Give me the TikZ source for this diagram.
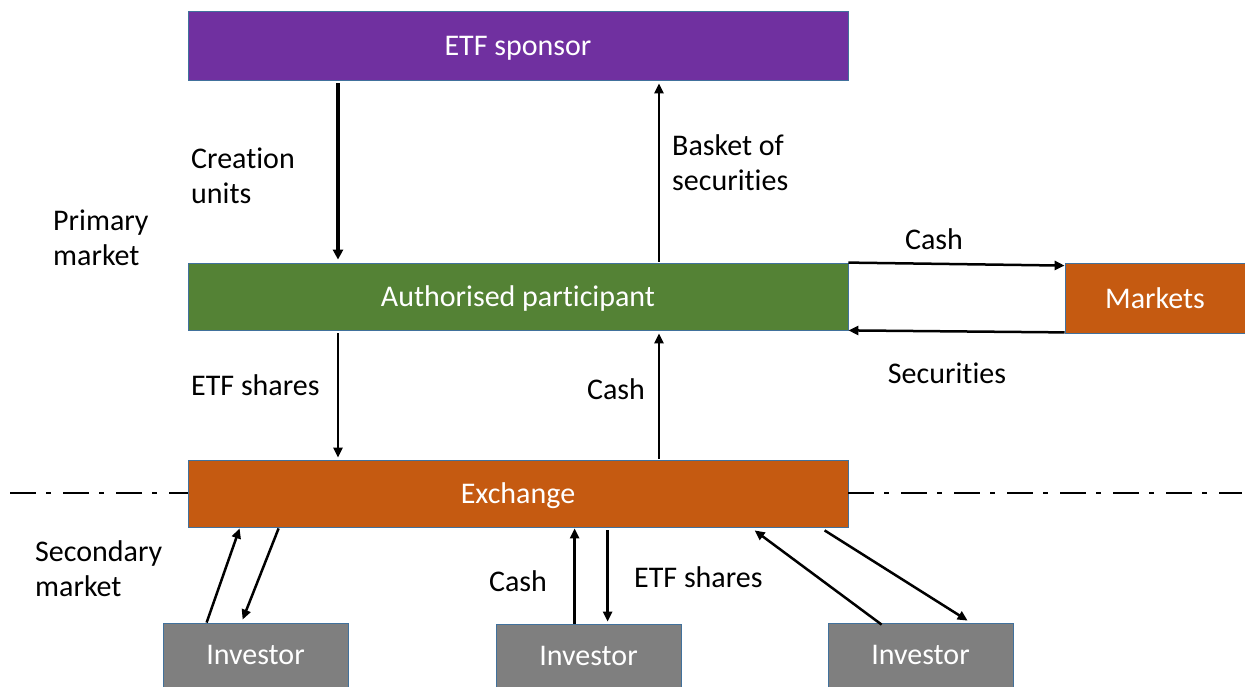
\documentclass[tikz,border=0pt]{standalone}
\usepackage{fontspec}
\setmainfont[Ligatures=NoCommon]{Carlito}
\usetikzlibrary{arrows.meta,calc}
\definecolor{cpurple}{HTML}{7030A0}
\definecolor{cgreen}{HTML}{548235}
\definecolor{corange}{HTML}{C55A11}
\definecolor{cgray}{HTML}{7F7F7F}
\definecolor{cborder}{HTML}{41719C}
\begin{document}
\begin{tikzpicture}[x=1pt,y=-1pt,
  box/.style={draw=cborder,line width=0.8pt,inner sep=0pt,text=white,text depth=0pt,
    font=\fontsize{30}{35}\selectfont},
  wide/.style={box,minimum width=660pt,minimum height=68pt},
  invbox/.style={box,fill=cgray,minimum width=185pt,minimum height=64pt},
  lbl/.style={inner sep=0pt,align=left,font=\fontsize{30}{35}\selectfont},
  arr/.style={line width=2.5pt,-{Triangle[length=10pt,width=9pt]}},
  thick arr/.style={line width=3.2pt,-{Triangle[length=10pt,width=10pt]}},
  dashdot line/.style={line width=2.8pt,dash pattern=on 26pt off 10pt on 5pt off 12pt}
]
\useasboundingbox (0,0) rectangle (1245,687);
% boxes
\node[wide,fill=cpurple,minimum height=69pt] (spon) at (518,45.5) {ETF sponsor};
\node[wide,fill=cgreen,minimum height=67pt] (ap) at (518,296.5) {Authorised participant};
\node[box,fill=corange,minimum width=180pt,minimum height=70pt] (mkt) at (1155,298) {Markets};
\node[wide,fill=corange,minimum height=67pt] (exch) at (518,493.5) {Exchange};
\node[invbox] (inv1) at (255.5,655) {Investor};
\node[invbox] (inv2) at (588.5,656) {Investor};
\node[invbox] (inv3) at (920.5,655) {Investor};
% dash-dot separators
\coordinate (dl) at (10,493);
\coordinate (dr) at (1242,493);
\draw[dashdot line] (dl) -- (exch.west |- dl);
\draw[dashdot line] (exch.east |- dr) -- (dr);
% x positions
\coordinate (xa) at (338,0);
\coordinate (xb) at (659,0);
% primary market arrows
\draw[thick arr,shorten <=3pt,shorten >=3pt] (spon.south -| xa) -- (ap.north -| xa);
\draw[arr,shorten <=1pt,shorten >=3pt] (ap.north -| xb) -- (spon.south -| xb);
\draw[arr,shorten <=3pt,shorten >=2pt] (ap.south -| xa) -- (exch.north -| xa);
\draw[arr,shorten <=1pt,shorten >=3pt] (exch.north -| xb) -- (ap.south -| xb);
% markets arrows
\draw[arr] (ap.north east) -- ($(mkt.north west)+(0,3)$);
\draw[arr] ($(mkt.south west)+(0,-1)$) -- ($(ap.south east)+(0,0)$);
% investor arrows
\draw[arr] ($(inv1.north west)+(44,0)$) -- ($(exch.south west)+(52,1)$);
\draw[arr] ($(exch.south west)+(91,1)$) -- ($(inv1.north west)+(80,-3)$);
\draw[arr] ($(inv2.north west)+(79,0)$) -- ($(exch.south west)+(387,1)$);
\draw[arr] ($(exch.south west)+(420,3)$) -- ($(inv2.north west)+(112,-2)$);
\draw[arr] ($(inv3.north west)+(54,2)$) -- ($(exch.south west)+(567,3)$);
\draw[arr] ($(exch.south west)+(637,3)$) -- ($(inv3.north west)+(140,-2)$);
% labels
\node[lbl,anchor=west] (lcu) at (191,176) {Creation\\units};
\node[lbl,anchor=west] (lbs) at (672,163) {Basket of\\securities};
\node[lbl,anchor=west] (lpm) at (53,238) {Primary\\market};
\node[lbl] (lc1) at (934,239) {Cash};
\node[lbl] (lsec) at (947,373) {Securities};
\node[lbl,anchor=west] (les1) at (191,385) {ETF shares};
\node[lbl] (lc2) at (616,389) {Cash};
\node[lbl,anchor=west] (lsm) at (35,569) {Secondary\\market};
\node[lbl] (lc3) at (518,581) {Cash};
\node[lbl,anchor=west] (les2) at (634,577) {ETF shares};
\end{tikzpicture}
\end{document}
